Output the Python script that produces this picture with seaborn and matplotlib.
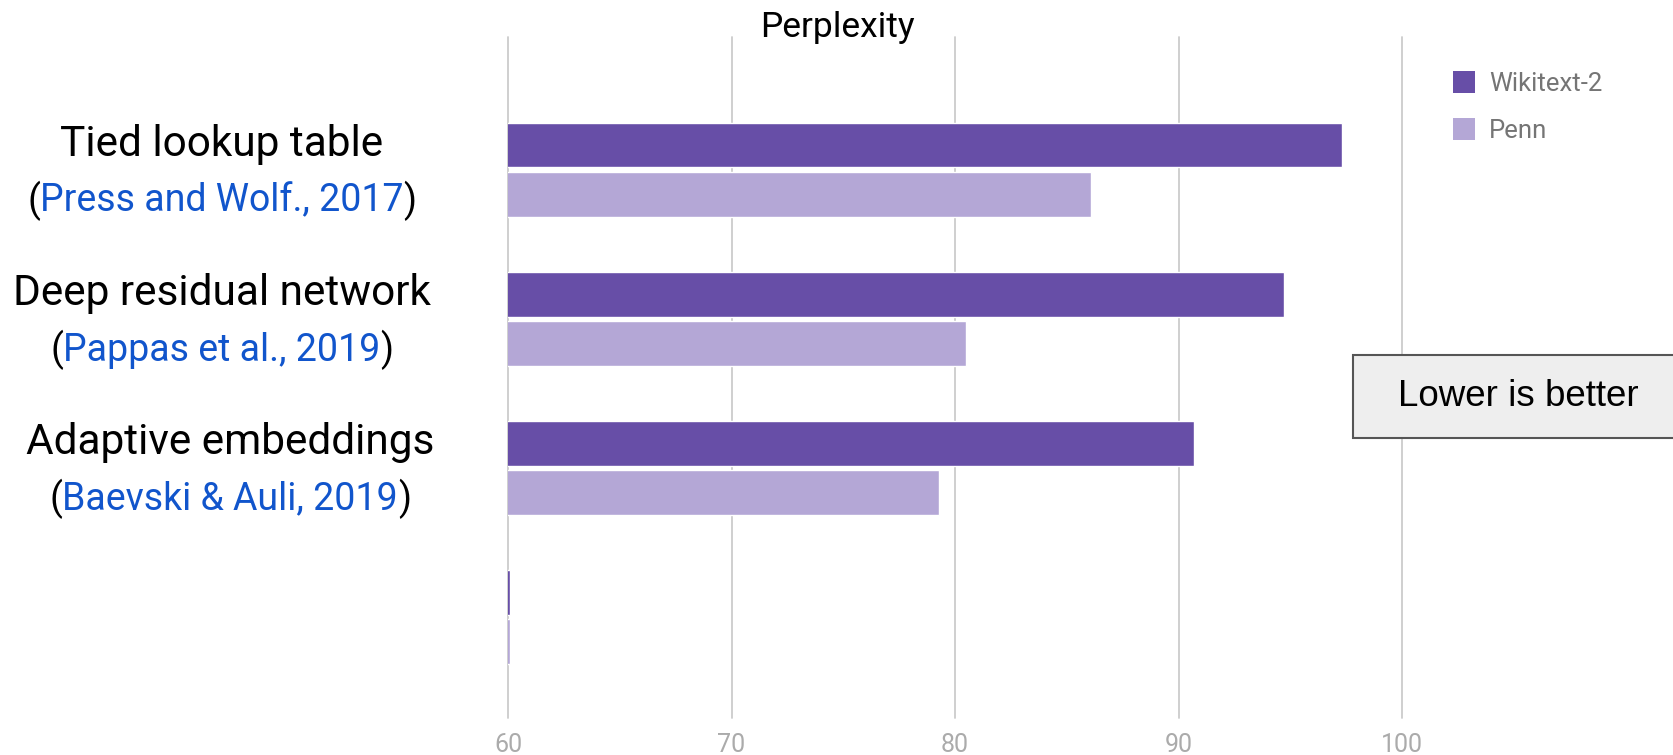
import matplotlib
matplotlib.use("Agg")
import matplotlib.pyplot as plt
from matplotlib import transforms
from matplotlib.patches import Patch, Rectangle
import pandas as pd
import seaborn as sns

# Data
models = ["Tied lookup table", "Deep residual network", "Adaptive embeddings", ""]
citations = ["Press and Wolf., 2017", "Pappas et al., 2019", "Baevski & Auli, 2019", ""]
datasets = ["Wikitext-2", "Penn"]
wikitext2 = [97.3, 94.7, 90.7, 60.1]
penn = [86.1, 80.5, 79.3, 60.1]
x_ticks = [60, 70, 80, 90, 100]

colors = ["#674ea7", "#b4a7d6"]
label_x = [222, 222, 230, 222]  # horizontal centre of each two-line label, px

df = pd.DataFrame({
    "model": models * 2,
    "dataset": [datasets[0]] * len(models) + [datasets[1]] * len(models),
    "perplexity": wikitext2 + penn,
})

sns.set_theme(style="white")
plt.rcParams["font.family"] = ["Roboto", "DejaVu Sans"]

W, H = 1674, 755
fig = plt.figure(figsize=(W / 100, H / 100), dpi=100)
ax = fig.add_axes([508 / W, 1 - 718 / H, (1402 - 508) / W, (718 - 37) / H])

sns.barplot(
    data=df, y="model", x="perplexity", hue="dataset",
    order=models, hue_order=datasets, palette=colors,
    orient="h", width=0.66, gap=0.09, saturation=1,
    legend=False, ax=ax,
)

ax.set_xlim(60, 100)
ax.set_ylim(3.677, -0.89)
ax.set_xticks(x_ticks)
ax.set_xlabel("")
ax.set_ylabel("")
ax.tick_params(axis="y", left=False, labelleft=False)
ax.tick_params(axis="x", bottom=False, labelsize=18, labelcolor="#ababab", pad=5)
for s in ax.spines.values():
    s.set_visible(False)
ax.set_axisbelow(True)
ax.grid(axis="x", color="#cccccc", linewidth=1.3)
ax.grid(axis="y", visible=False)
for gl in ax.get_xgridlines():
    gl.set_clip_on(False)

# Two-line category labels: model name plus coloured citation in parentheses
lab_tf = transforms.blended_transform_factory(fig.transFigure, ax.transData)
for i, (m, c) in enumerate(zip(models, citations)):
    if not m:
        continue
    lx = label_x[i] / W
    ax.text(lx, i - 0.17, m, transform=lab_tf, ha="center", va="center",
            fontsize=30.5, color="black")
    cite = ax.text(lx, i + 0.21, c, transform=lab_tf, ha="center",
                   va="center", fontsize=27, color="#1155cc")
    ax.annotate("(", xy=(0, 0.5), xycoords=cite, ha="right", va="center",
                fontsize=27, color="black")
    ax.annotate(")", xy=(1, 0.5), xycoords=cite, ha="left", va="center",
                fontsize=27, color="black")

fig.suptitle("Perplexity", x=0.5, y=1 - 27 / H, va="center", fontsize=25.5,
             color="black")

handles = [Patch(facecolor=col, edgecolor="none", label=d)
           for col, d in zip(colors, datasets)]
leg = fig.legend(
    handles=handles, loc="upper left",
    bbox_to_anchor=(1453 / W, 1 - 71 / H), frameon=False,
    fontsize=18.5, handlelength=0.85, handleheight=0.95, handletextpad=0.55,
    labelspacing=0.85, borderpad=0, borderaxespad=0,
)
for t in leg.get_texts():
    t.set_color("#757575")

# Annotation box on the right
fig.add_artist(Rectangle((1353 / W, 1 - 438 / H), (W - 1353 + 10) / W, 83 / H,
                         transform=fig.transFigure, facecolor="#eeeeee",
                         edgecolor="#555555", linewidth=1.5))
fig.text(1518 / W, 1 - 397 / H, "Lower is better", ha="center", va="center",
         fontsize=26.5, family=["Liberation Sans", "DejaVu Sans"], color="black")

fig.savefig("out.png", dpi=100, facecolor="white")
